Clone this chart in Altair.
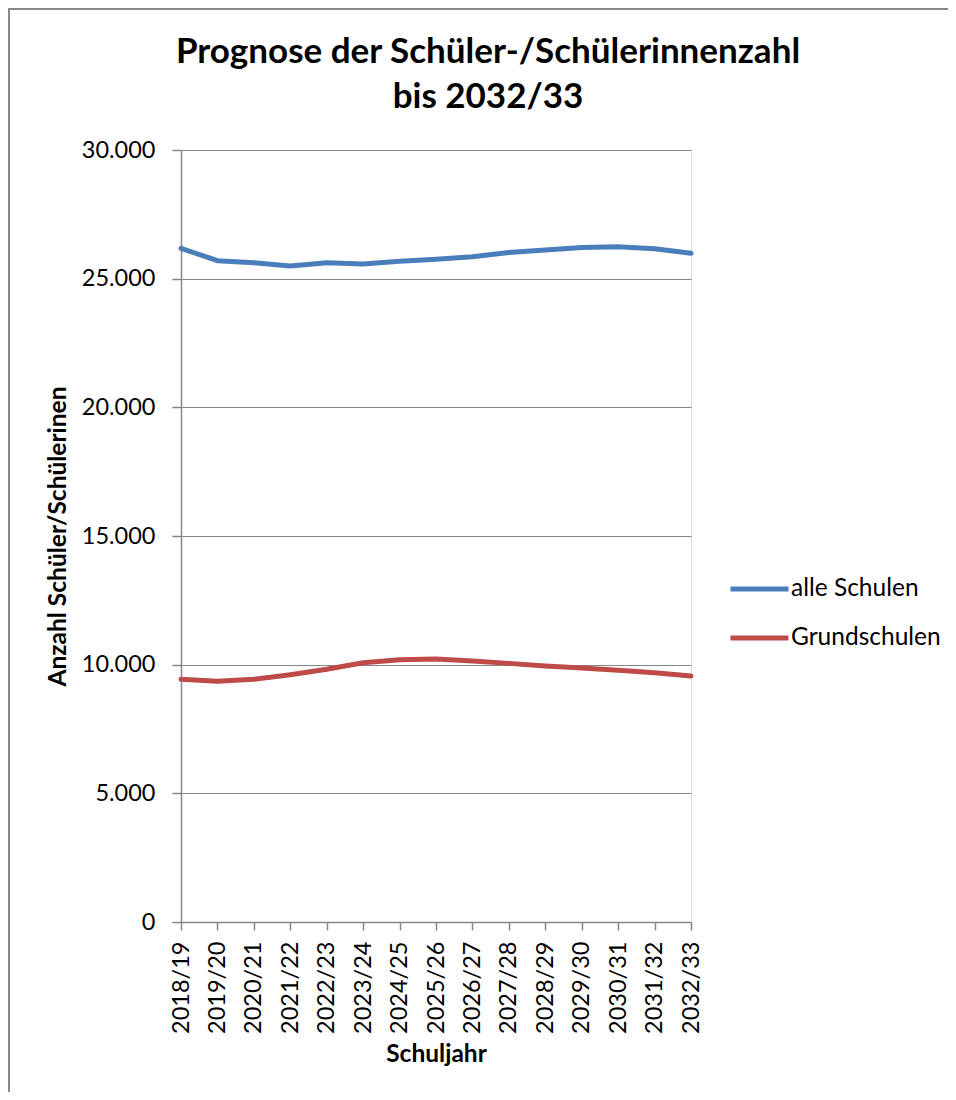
import altair as alt
import pandas as pd

years = ["2018/19", "2019/20", "2020/21", "2021/22", "2022/23", "2023/24", "2024/25",
         "2025/26", "2026/27", "2027/28", "2028/29", "2029/30", "2030/31", "2031/32", "2032/33"]
alle_schulen = [26180, 25700, 25620, 25490, 25620, 25570, 25675, 25750, 25855, 26020,
                26110, 26215, 26240, 26165, 25985]
grundschulen = [9430, 9353, 9430, 9610, 9820, 10077, 10195, 10220, 10143, 10050,
                9948, 9870, 9780, 9690, 9560]
series_names = ["alle Schulen", "Grundschulen"]
series_colors = ["#4A7EBB", "#BE4B48"]

df = pd.DataFrame({"Schuljahr": years, series_names[0]: alle_schulen, series_names[1]: grundschulen})
long = df.melt(id_vars="Schuljahr", var_name="Serie", value_name="Anzahl")
long["order"] = long["Serie"].map({n: i for i, n in enumerate(series_names)})

FONT = "Lato"
GRID = "#868686"
LBL = 23.5
TTL = 24.5

lines = alt.Chart(long).mark_line(strokeWidth=5, strokeCap="round", strokeJoin="round").encode(
    x=alt.X("Schuljahr:O", sort=years,
            scale=alt.Scale(type="point", padding=0),
            axis=alt.Axis(title="Schuljahr", labelAngle=-90, labelAlign="right", labelBaseline="middle",
                          labelPadding=11, tickSize=8, tickColor=GRID, domainColor=GRID, domainWidth=1.5,
                          tickWidth=1.5, labelFont=FONT, labelFontSize=LBL, labelColor="black",
                          titleFont=FONT, titleFontSize=TTL, titleFontWeight="bold", titleColor="black",
                          titlePadding=9, grid=False)),
    y=alt.Y("Anzahl:Q",
            scale=alt.Scale(domain=[0, 30000], nice=False, zero=True),
            axis=alt.Axis(title="Anzahl Schüler/Schülerinen", values=[0, 5000, 10000, 15000, 20000, 25000, 30000],
                          labelExpr="replace(format(datum.value, ','), ',', '.')",
                          tickSize=9, tickColor=GRID, domainColor=GRID, domainWidth=1.5, tickWidth=1.5,
                          gridColor=GRID, gridWidth=1, labelFont=FONT, labelFontSize=LBL, labelColor="black",
                          labelPadding=17,
                          titleFont=FONT, titleFontSize=TTL, titleFontWeight="bold", titleColor="black",
                          titlePadding=11)),
    color=alt.Color("Serie:N", sort=series_names,
                    scale=alt.Scale(domain=series_names, range=series_colors),
                    legend=alt.Legend(title=None, orient="none", legendX=547, legendY=424,
                                      symbolType="stroke", symbolSize=3364, symbolStrokeWidth=5,
                                      labelFont=FONT, labelFontSize=TTL, labelColor="black",
                                      labelOffset=0, clipHeight=30, rowPadding=19)),
    order="order:Q",
    detail="Serie:N",
)

frame = alt.Chart(pd.DataFrame({"f": [0]})).mark_rect(fill=None, stroke="#888888", strokeWidth=2).encode(
    x=alt.value(-172), y=alt.value(-141), x2=alt.value(900), y2=alt.value(1000)
)

chart = alt.layer(frame, lines).properties(
    width=510,
    height=772,
    autosize=alt.AutoSizeParams(type="none"),
    padding={"left": 173, "top": 142, "right": 257, "bottom": 170},
    title=alt.TitleParams(text=["Prognose der Schüler-/Schülerinnenzahl", "bis 2032/33"],
                          anchor="middle", frame="group", dx=52, offset=-107,
                          font=FONT, fontSize=35, fontWeight="bold", color="black", lineHeight=45),
).configure_view(stroke=None).configure(background="white")

chart.save("out.html", embed_options={"renderer": "svg", "actions": False})
